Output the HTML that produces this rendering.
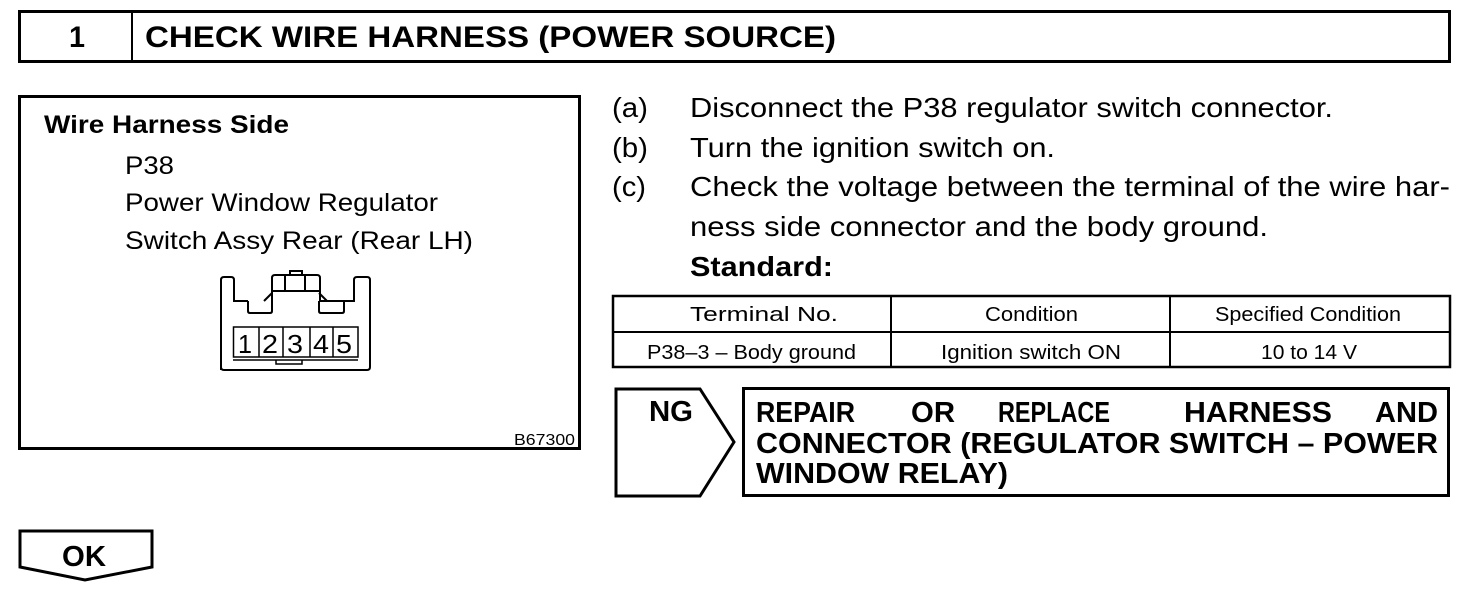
<!DOCTYPE html>
<html><head><meta charset="utf-8"><style>
html,body{margin:0;padding:0;background:#fff;}
svg{display:block;}
text{font-family:"Liberation Sans",Arial,sans-serif;fill:#000;}
.b{font-weight:bold;}
</style></head><body>
<svg width="1472" height="594" viewBox="0 0 1472 594" xmlns="http://www.w3.org/2000/svg">
<g fill="none" stroke="#000">
<rect x="19.5" y="11.5" width="1430" height="50" stroke-width="3"/>
<line x1="132" y1="11" x2="132" y2="62" stroke-width="2"/>
<rect x="19.5" y="96.5" width="560" height="352" stroke-width="3"/>
<g stroke-width="2">
<path d="M221,370 V280 q0,-3 3,-3 h7 q3,0 3,3 V301 H248 M272,301 V278 q0,-3 3,-3 h42 q3,0 3,3 V301 M344,301 H354 V280 q0,-3 3,-3 h10 q3,0 3,3 V367 q0,3 -3,3 H224 q-3,0 -3,-3"/>
<path d="M248,301 V311 q0,2 2,2 h20 q2,0 2,-2 V301 M319,301 V311 q0,2 2,2 h21 q2,0 2,-2 V301 H319"/>
<path d="M264,301 L272,293 M327,301 L319,293 M272,291 H319"/>
<path d="M285,275 V291 M305,275 V291 M290,275 V271 H302 V275"/>
<rect x="233.5" y="327" width="124.5" height="30" stroke-width="1.5"/>
<path d="M259,327 V357 M283,327 V357 M310,327 V357 M333,327 V357" stroke-width="1.5"/>
<path d="M233,360 H358 M276,360 V364 H302 V360" stroke-width="1.5"/>
</g>
<rect x="613" y="296" width="837" height="71" stroke-width="2.5"/>
<line x1="613" y1="332" x2="1450" y2="332" stroke-width="2"/>
<line x1="891" y1="296" x2="891" y2="367" stroke-width="2"/>
<line x1="1170" y1="296" x2="1170" y2="367" stroke-width="2"/>
<path d="M616,389 H700 L734,442 L700,496 H616 Z" stroke-width="3"/>
<rect x="743.5" y="388.5" width="705" height="107" stroke-width="3"/>
<path d="M20,531 H152 V567 L85,580 L20,567 Z" stroke-width="3"/>
</g>
<text class="b" x="69" y="47" font-size="30" textLength="16" lengthAdjust="spacingAndGlyphs">1</text>
<text class="b" x="145" y="47" font-size="30" textLength="691" lengthAdjust="spacingAndGlyphs">CHECK WIRE HARNESS (POWER SOURCE)</text>
<text class="b" x="44" y="133" font-size="25" textLength="245" lengthAdjust="spacingAndGlyphs">Wire Harness Side</text>
<text x="125" y="174" font-size="25" textLength="49" lengthAdjust="spacingAndGlyphs">P38</text>
<text x="125" y="211" font-size="25" textLength="313" lengthAdjust="spacingAndGlyphs">Power Window Regulator</text>
<text x="125" y="249" font-size="25" textLength="348" lengthAdjust="spacingAndGlyphs">Switch Assy Rear (Rear LH)</text>
<text x="238" y="353" font-size="26" textLength="14" lengthAdjust="spacingAndGlyphs">1</text>
<text x="262" y="353" font-size="26" textLength="16" lengthAdjust="spacingAndGlyphs">2</text>
<text x="287" y="353" font-size="26" textLength="16" lengthAdjust="spacingAndGlyphs">3</text>
<text x="313" y="353" font-size="26" textLength="16" lengthAdjust="spacingAndGlyphs">4</text>
<text x="336" y="353" font-size="26" textLength="16" lengthAdjust="spacingAndGlyphs">5</text>
<text x="514" y="445" font-size="16" textLength="61" lengthAdjust="spacingAndGlyphs">B67300</text>
<text x="612" y="117" font-size="28" textLength="36" lengthAdjust="spacingAndGlyphs">(a)</text>
<text x="690" y="117" font-size="28" textLength="643" lengthAdjust="spacingAndGlyphs">Disconnect the P38 regulator switch connector.</text>
<text x="612" y="157" font-size="28" textLength="36" lengthAdjust="spacingAndGlyphs">(b)</text>
<text x="690" y="157" font-size="28" textLength="365" lengthAdjust="spacingAndGlyphs">Turn the ignition switch on.</text>
<text x="612" y="196" font-size="28" textLength="34" lengthAdjust="spacingAndGlyphs">(c)</text>
<text x="690" y="196" font-size="28" textLength="760" lengthAdjust="spacingAndGlyphs">Check the voltage between the terminal of the wire har-</text>
<text x="690" y="236" font-size="28" textLength="578" lengthAdjust="spacingAndGlyphs">ness side connector and the body ground.</text>
<text class="b" x="690" y="276" font-size="28" textLength="143" lengthAdjust="spacingAndGlyphs">Standard:</text>
<text x="690" y="321" font-size="20" textLength="148" lengthAdjust="spacingAndGlyphs">Terminal No.</text>
<text x="985" y="321" font-size="20" textLength="93" lengthAdjust="spacingAndGlyphs">Condition</text>
<text x="1215" y="321" font-size="20" textLength="186" lengthAdjust="spacingAndGlyphs">Specified Condition</text>
<text x="647" y="359" font-size="20" textLength="209" lengthAdjust="spacingAndGlyphs">P38–3 – Body ground</text>
<text x="941" y="359" font-size="20" textLength="180" lengthAdjust="spacingAndGlyphs">Ignition switch ON</text>
<text x="1261" y="359" font-size="20" textLength="96" lengthAdjust="spacingAndGlyphs">10 to 14 V</text>
<text class="b" x="649" y="421" font-size="29" textLength="44" lengthAdjust="spacingAndGlyphs">NG</text>
<text class="b" x="756" y="422" font-size="29" textLength="99" lengthAdjust="spacingAndGlyphs">REPAIR</text>
<text class="b" x="911" y="422" font-size="29" textLength="44" lengthAdjust="spacingAndGlyphs">OR</text>
<text class="b" x="998" y="422" font-size="29" textLength="112" lengthAdjust="spacingAndGlyphs">REPLACE</text>
<text class="b" x="1184" y="422" font-size="29" textLength="148" lengthAdjust="spacingAndGlyphs">HARNESS</text>
<text class="b" x="1375" y="422" font-size="29" textLength="63" lengthAdjust="spacingAndGlyphs">AND</text>
<text class="b" x="756" y="453" font-size="29" textLength="682" lengthAdjust="spacingAndGlyphs">CONNECTOR (REGULATOR SWITCH – POWER</text>
<text class="b" x="756" y="483" font-size="29" textLength="252" lengthAdjust="spacingAndGlyphs">WINDOW RELAY)</text>
<text class="b" x="62" y="566" font-size="29" textLength="44" lengthAdjust="spacingAndGlyphs">OK</text>
</svg>
</body></html>
